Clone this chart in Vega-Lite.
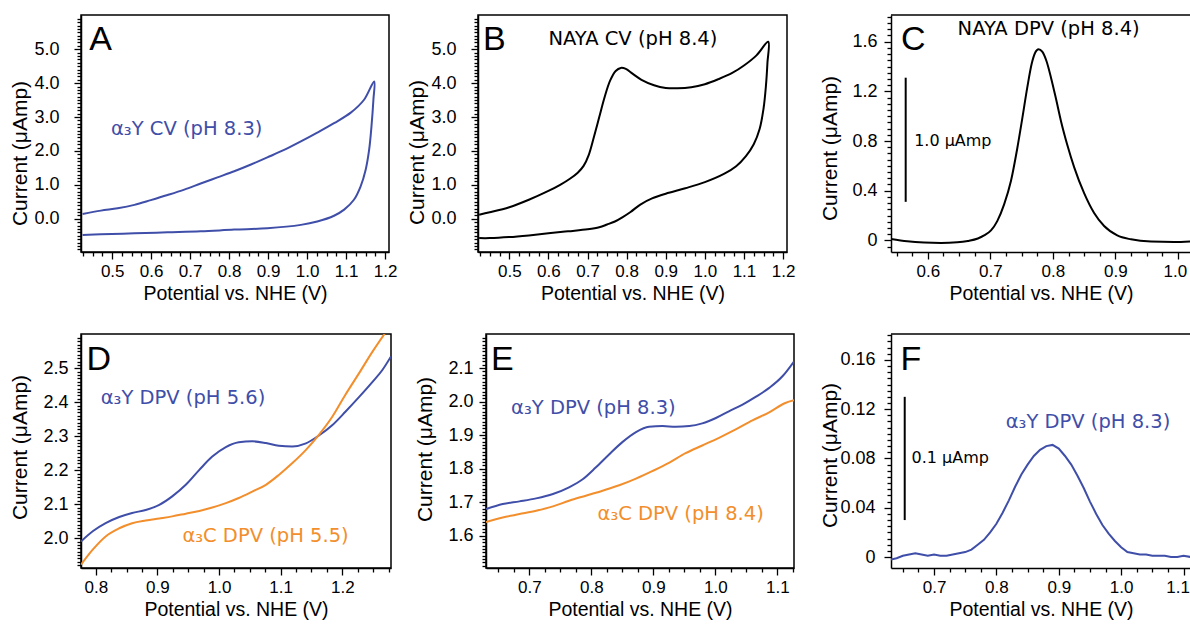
{
"$schema": "https://vega.github.io/schema/vega-lite/v6.json",
"background": "white",
"padding": {"left": 8, "top": 7, "right": 0, "bottom": 0},
"autosize": {"type": "pad"},
"config": {
  "font": "Liberation Sans",
  "view": {"stroke": "black", "strokeWidth": 1.5},
  "axis": {"grid": false, "domainColor": "black", "domainWidth": 1.5, "tickColor": "black", "tickWidth": 1.3,
    "labelColor": "black", "labelFontSize": 17, "labelFont": "Liberation Sans", "labelPadding": 4,
    "labelFlush": false, "labelOverlap": false, "titleColor": "black", "titleFontWeight": "normal",
    "titleFont": "Liberation Sans", "titleFontSize": 19.5, "tickCount": 500},
  "axisX": {"titlePadding": 5, "labelPadding": 4},
  "axisY": {"titleX": -51, "titleFontSize": 21, "labelPadding": 9, "labelFontSize": 18},
  "text": {"font": "DejaVu Sans"}
},
"datasets": {
  "A": [
    {"i":0,"v":0.424,"c":0.14},{"i":1,"v":0.471,"c":0.24},{"i":2,"v":0.514,"c":0.31},{"i":3,"v":0.557,"c":0.41},
    {"i":4,"v":0.599,"c":0.55},{"i":5,"v":0.642,"c":0.70},{"i":6,"v":0.685,"c":0.86},{"i":7,"v":0.727,"c":1.04},
    {"i":8,"v":0.770,"c":1.22},{"i":9,"v":0.813,"c":1.40},{"i":10,"v":0.856,"c":1.60},{"i":11,"v":0.898,"c":1.81},
    {"i":12,"v":0.941,"c":2.03},{"i":13,"v":0.984,"c":2.28},{"i":14,"v":1.026,"c":2.54},{"i":15,"v":1.069,"c":2.82},
    {"i":16,"v":1.112,"c":3.13},{"i":17,"v":1.146,"c":3.51},{"i":18,"v":1.172,"c":4.05},
    {"i":19,"v":1.170,"c":3.51},{"i":20,"v":1.165,"c":2.72},{"i":21,"v":1.159,"c":2.03},{"i":22,"v":1.150,"c":1.44},
    {"i":23,"v":1.137,"c":0.95},{"i":24,"v":1.120,"c":0.56},{"i":25,"v":1.095,"c":0.27},{"i":26,"v":1.069,"c":0.09},
    {"i":27,"v":1.026,"c":-0.08},{"i":28,"v":0.984,"c":-0.18},{"i":29,"v":0.898,"c":-0.28},{"i":30,"v":0.813,"c":-0.32},
    {"i":31,"v":0.727,"c":-0.37},{"i":32,"v":0.642,"c":-0.40},{"i":33,"v":0.557,"c":-0.43},{"i":34,"v":0.471,"c":-0.46},
    {"i":35,"v":0.424,"c":-0.48}
  ],
  "B": [
    {"i":0,"v":0.423,"c":0.12},{"i":1,"v":0.45,"c":0.19},{"i":2,"v":0.5,"c":0.34},{"i":3,"v":0.55,"c":0.56},
    {"i":4,"v":0.6,"c":0.82},{"i":5,"v":0.63,"c":1.0},{"i":6,"v":0.655,"c":1.18},{"i":7,"v":0.675,"c":1.36},
    {"i":8,"v":0.69,"c":1.56},{"i":9,"v":0.703,"c":1.88},{"i":10,"v":0.716,"c":2.40},{"i":11,"v":0.73,"c":3.00},
    {"i":12,"v":0.744,"c":3.60},{"i":13,"v":0.758,"c":4.08},{"i":14,"v":0.772,"c":4.36},{"i":15,"v":0.785,"c":4.45},
    {"i":16,"v":0.798,"c":4.42},{"i":17,"v":0.815,"c":4.28},{"i":18,"v":0.838,"c":4.1},{"i":19,"v":0.87,"c":3.94},
    {"i":20,"v":0.9,"c":3.86},{"i":21,"v":0.93,"c":3.85},{"i":22,"v":0.965,"c":3.88},{"i":23,"v":1.0,"c":3.97},
    {"i":24,"v":1.035,"c":4.12},{"i":25,"v":1.07,"c":4.3},{"i":26,"v":1.1,"c":4.52},{"i":27,"v":1.132,"c":4.82},
    {"i":28,"v":1.162,"c":5.22},
    {"i":29,"v":1.16,"c":4.6},{"i":30,"v":1.156,"c":3.9},{"i":31,"v":1.15,"c":3.25},{"i":32,"v":1.14,"c":2.65},
    {"i":33,"v":1.125,"c":2.2},{"i":34,"v":1.105,"c":1.85},{"i":35,"v":1.08,"c":1.55},{"i":36,"v":1.05,"c":1.33},
    {"i":37,"v":1.0,"c":1.08},{"i":38,"v":0.95,"c":0.9},{"i":39,"v":0.9,"c":0.74},{"i":40,"v":0.865,"c":0.6},
    {"i":41,"v":0.835,"c":0.42},{"i":42,"v":0.81,"c":0.2},{"i":43,"v":0.79,"c":0.05},{"i":44,"v":0.77,"c":-0.08},
    {"i":45,"v":0.75,"c":-0.17},{"i":46,"v":0.73,"c":-0.25},{"i":47,"v":0.7,"c":-0.31},{"i":48,"v":0.65,"c":-0.37},
    {"i":49,"v":0.6,"c":-0.43},{"i":50,"v":0.55,"c":-0.49},{"i":51,"v":0.5,"c":-0.54},{"i":52,"v":0.45,"c":-0.57},
    {"i":53,"v":0.423,"c":-0.57}
  ],
  "C": [
    {"v":0.541,"c":0.011},{"v":0.567,"c":-0.008},{"v":0.594,"c":-0.018},{"v":0.621,"c":-0.021},{"v":0.647,"c":-0.016},
    {"v":0.664,"c":-0.005},{"v":0.680,"c":0.015},{"v":0.690,"c":0.040},{"v":0.701,"c":0.080},{"v":0.711,"c":0.155},
    {"v":0.722,"c":0.290},{"v":0.733,"c":0.480},{"v":0.743,"c":0.740},{"v":0.751,"c":0.980},{"v":0.759,"c":1.230},
    {"v":0.766,"c":1.420},{"v":0.772,"c":1.515},{"v":0.777,"c":1.540},{"v":0.783,"c":1.520},{"v":0.790,"c":1.440},
    {"v":0.797,"c":1.310},{"v":0.805,"c":1.140},{"v":0.813,"c":0.960},{"v":0.823,"c":0.770},{"v":0.834,"c":0.590},
    {"v":0.850,"c":0.380},{"v":0.866,"c":0.220},{"v":0.882,"c":0.115},{"v":0.903,"c":0.040},{"v":0.925,"c":0.008},
    {"v":0.957,"c":-0.010},{"v":0.994,"c":-0.013},{"v":1.021,"c":-0.008}
  ],
  "D": [
    {"s":"Y","v":0.776,"c":1.990},{"s":"Y","v":0.795,"c":2.020},{"s":"Y","v":0.816,"c":2.044},{"s":"Y","v":0.838,"c":2.062},
    {"s":"Y","v":0.859,"c":2.074},{"s":"Y","v":0.881,"c":2.083},{"s":"Y","v":0.903,"c":2.098},{"s":"Y","v":0.924,"c":2.123},
    {"s":"Y","v":0.946,"c":2.157},{"s":"Y","v":0.968,"c":2.201},{"s":"Y","v":0.989,"c":2.240},{"s":"Y","v":1.011,"c":2.268},
    {"s":"Y","v":1.032,"c":2.282},{"s":"Y","v":1.054,"c":2.285},{"s":"Y","v":1.076,"c":2.280},{"s":"Y","v":1.097,"c":2.272},
    {"s":"Y","v":1.119,"c":2.270},{"s":"Y","v":1.141,"c":2.279},{"s":"Y","v":1.162,"c":2.302},{"s":"Y","v":1.184,"c":2.333},
    {"s":"Y","v":1.205,"c":2.372},{"s":"Y","v":1.227,"c":2.415},{"s":"Y","v":1.249,"c":2.460},{"s":"Y","v":1.265,"c":2.495},
    {"s":"Y","v":1.279,"c":2.535},
    {"s":"C","v":0.776,"c":1.922},{"s":"C","v":0.795,"c":1.966},{"s":"C","v":0.816,"c":2.005},{"s":"C","v":0.838,"c":2.029},
    {"s":"C","v":0.859,"c":2.044},{"s":"C","v":0.881,"c":2.052},{"s":"C","v":0.903,"c":2.058},{"s":"C","v":0.924,"c":2.064},
    {"s":"C","v":0.946,"c":2.072},{"s":"C","v":0.968,"c":2.080},{"s":"C","v":0.989,"c":2.090},{"s":"C","v":1.011,"c":2.103},
    {"s":"C","v":1.032,"c":2.118},{"s":"C","v":1.054,"c":2.137},{"s":"C","v":1.076,"c":2.157},{"s":"C","v":1.097,"c":2.186},
    {"s":"C","v":1.119,"c":2.221},{"s":"C","v":1.141,"c":2.260},{"s":"C","v":1.162,"c":2.304},{"s":"C","v":1.184,"c":2.358},
    {"s":"C","v":1.205,"c":2.422},{"s":"C","v":1.227,"c":2.485},{"s":"C","v":1.249,"c":2.549},{"s":"C","v":1.273,"c":2.613}
  ],
  "E": [
    {"s":"Y","v":0.630,"c":1.679},{"s":"Y","v":0.657,"c":1.694},{"s":"Y","v":0.684,"c":1.702},{"s":"Y","v":0.711,"c":1.711},
    {"s":"Y","v":0.738,"c":1.724},{"s":"Y","v":0.764,"c":1.744},{"s":"Y","v":0.786,"c":1.768},{"s":"Y","v":0.807,"c":1.803},
    {"s":"Y","v":0.829,"c":1.843},{"s":"Y","v":0.850,"c":1.879},{"s":"Y","v":0.872,"c":1.909},{"s":"Y","v":0.893,"c":1.925},
    {"s":"Y","v":0.915,"c":1.927},{"s":"Y","v":0.936,"c":1.925},{"s":"Y","v":0.958,"c":1.927},{"s":"Y","v":0.979,"c":1.935},
    {"s":"Y","v":1.001,"c":1.951},{"s":"Y","v":1.022,"c":1.971},{"s":"Y","v":1.044,"c":1.991},{"s":"Y","v":1.065,"c":2.014},
    {"s":"Y","v":1.087,"c":2.041},{"s":"Y","v":1.108,"c":2.075},{"s":"Y","v":1.127,"c":2.120},
    {"s":"C","v":0.630,"c":1.640},{"s":"C","v":0.657,"c":1.654},{"s":"C","v":0.684,"c":1.664},{"s":"C","v":0.711,"c":1.674},
    {"s":"C","v":0.738,"c":1.687},{"s":"C","v":0.764,"c":1.704},{"s":"C","v":0.791,"c":1.719},{"s":"C","v":0.818,"c":1.734},
    {"s":"C","v":0.845,"c":1.750},{"s":"C","v":0.872,"c":1.770},{"s":"C","v":0.899,"c":1.793},{"s":"C","v":0.926,"c":1.818},
    {"s":"C","v":0.952,"c":1.846},{"s":"C","v":0.979,"c":1.869},{"s":"C","v":1.006,"c":1.892},{"s":"C","v":1.033,"c":1.917},
    {"s":"C","v":1.060,"c":1.944},{"s":"C","v":1.087,"c":1.968},{"s":"C","v":1.113,"c":1.996},{"s":"C","v":1.127,"c":2.004}
  ],
  "F": [
    {"v":0.631,"c":-0.002},{"v":0.640,"c":-0.001},{"v":0.650,"c":0.001},{"v":0.660,"c":0.002},{"v":0.670,"c":0.003},
    {"v":0.680,"c":0.002},{"v":0.690,"c":0.001},{"v":0.700,"c":0.002},{"v":0.710,"c":0.001},{"v":0.720,"c":0.001},
    {"v":0.730,"c":0.002},{"v":0.740,"c":0.003},{"v":0.750,"c":0.004},{"v":0.760,"c":0.006},{"v":0.770,"c":0.010},
    {"v":0.780,"c":0.014},{"v":0.790,"c":0.020},{"v":0.800,"c":0.027},{"v":0.810,"c":0.036},{"v":0.820,"c":0.046},
    {"v":0.830,"c":0.057},{"v":0.840,"c":0.067},{"v":0.850,"c":0.075},{"v":0.860,"c":0.082},{"v":0.870,"c":0.087},
    {"v":0.880,"c":0.090},{"v":0.890,"c":0.091},{"v":0.900,"c":0.088},{"v":0.910,"c":0.082},{"v":0.920,"c":0.075},
    {"v":0.930,"c":0.066},{"v":0.940,"c":0.056},{"v":0.950,"c":0.045},{"v":0.960,"c":0.035},{"v":0.970,"c":0.026},
    {"v":0.980,"c":0.019},{"v":0.990,"c":0.013},{"v":1.000,"c":0.008},{"v":1.010,"c":0.004},{"v":1.020,"c":0.003},
    {"v":1.030,"c":0.002},{"v":1.040,"c":0.002},{"v":1.050,"c":0.001},{"v":1.060,"c":0.001},{"v":1.070,"c":0.001},
    {"v":1.080,"c":0.000},{"v":1.090,"c":0.000},{"v":1.100,"c":0.001},{"v":1.112,"c":0.000}
  ]
},
"spacing": 22,
"vconcat": [
 {"hconcat": [
  {"width": 308, "height": 237,
   "layer": [
    {"data": {"name": "A"},
     "mark": {"type": "line", "color": "#3f4ea8", "strokeWidth": 2, "clip": true, "interpolate": "catmull-rom"},
     "encoding": {
      "x": {"field": "v", "type": "quantitative", "scale": {"domain": [0.42, 1.21], "nice": false, "zero": false},
        "axis": {"title": "Potential vs. NHE (V)", "labelOverlap": false, "tickCount": 500,
          "values": [0.425,0.45,0.475,0.5,0.525,0.55,0.575,0.6,0.625,0.65,0.675,0.7,0.725,0.75,0.775,0.8,0.825,0.85,0.875,0.9,0.925,0.95,0.975,1.0,1.025,1.05,1.075,1.1,1.125,1.15,1.175,1.2],
          "labelExpr": "abs(datum.value*10-round(datum.value*10))<0.001 ? format(datum.value,'.1f') : ''",
          "tickSize": {"condition": {"test": "abs(datum.value*10-round(datum.value*10))<0.001", "value": 7}, "value": 4}}},
      "y": {"field": "c", "type": "quantitative", "scale": {"domain": [-0.98, 6.01], "nice": false, "zero": false},
        "axis": {"title": "Current (μAmp)", "labelOverlap": false, "tickCount": 500, "titleY": 138, "labelPadding": 15,
          "values": [-0.9,-0.8,-0.7,-0.6,-0.5,-0.4,-0.3,-0.2,-0.1,0,0.1,0.2,0.3,0.4,0.5,0.6,0.7,0.8,0.9,1,1.1,1.2,1.3,1.4,1.5,1.6,1.7,1.8,1.9,2,2.1,2.2,2.3,2.4,2.5,2.6,2.7,2.8,2.9,3,3.1,3.2,3.3,3.4,3.5,3.6,3.7,3.8,3.9,4,4.1,4.2,4.3,4.4,4.5,4.6,4.7,4.8,4.9,5,5.1,5.2,5.3,5.4,5.5,5.6,5.7,5.8,5.9],
          "labelExpr": "abs(datum.value-round(datum.value))<0.001 ? format(datum.value,'.1f') : ''",
          "tickSize": {"condition": {"test": "abs(datum.value-round(datum.value))<0.001", "value": 7}, "value": 4}}},
      "order": {"field": "i", "type": "quantitative"}
     }},
    {"data": {"values": [{}]}, "mark": {"type": "text", "text": "A", "fontSize": 34, "font": "Liberation Sans", "align": "left", "baseline": "alphabetic", "color": "black"},
     "encoding": {"x": {"datum": 0.441}, "y": {"datum": 4.98}}},
    {"data": {"values": [{}]}, "mark": {"type": "text", "text": "α₃Y CV (pH 8.3)", "fontSize": 19.5, "align": "left", "baseline": "alphabetic", "color": "#3f4ea8"},
     "encoding": {"x": {"datum": 0.497}, "y": {"datum": 2.48}}}
   ]},
  {"width": 89, "height": 237, "data": {"values": []}, "mark": {"type": "point", "opacity": 0}, "view": {"stroke": null}},
  {"width": 309, "height": 237,
   "layer": [
    {"data": {"name": "B"},
     "mark": {"type": "line", "color": "black", "strokeWidth": 2, "clip": true, "interpolate": "catmull-rom"},
     "encoding": {
      "x": {"field": "v", "type": "quantitative", "scale": {"domain": [0.42, 1.21], "nice": false, "zero": false},
        "axis": {"title": "Potential vs. NHE (V)", "labelOverlap": false, "tickCount": 500,
          "values": [0.425,0.45,0.475,0.5,0.525,0.55,0.575,0.6,0.625,0.65,0.675,0.7,0.725,0.75,0.775,0.8,0.825,0.85,0.875,0.9,0.925,0.95,0.975,1.0,1.025,1.05,1.075,1.1,1.125,1.15,1.175,1.2],
          "labelExpr": "abs(datum.value*10-round(datum.value*10))<0.001 ? format(datum.value,'.1f') : ''",
          "tickSize": {"condition": {"test": "abs(datum.value*10-round(datum.value*10))<0.001", "value": 7}, "value": 4}}},
      "y": {"field": "c", "type": "quantitative", "scale": {"domain": [-0.98, 6.01], "nice": false, "zero": false},
        "axis": {"title": "Current (μAmp)", "labelOverlap": false, "tickCount": 500, "titleY": 137, "labelPadding": 15,
          "values": [-0.9,-0.8,-0.7,-0.6,-0.5,-0.4,-0.3,-0.2,-0.1,0,0.1,0.2,0.3,0.4,0.5,0.6,0.7,0.8,0.9,1,1.1,1.2,1.3,1.4,1.5,1.6,1.7,1.8,1.9,2,2.1,2.2,2.3,2.4,2.5,2.6,2.7,2.8,2.9,3,3.1,3.2,3.3,3.4,3.5,3.6,3.7,3.8,3.9,4,4.1,4.2,4.3,4.4,4.5,4.6,4.7,4.8,4.9,5,5.1,5.2,5.3,5.4,5.5,5.6,5.7,5.8,5.9],
          "labelExpr": "abs(datum.value-round(datum.value))<0.001 ? format(datum.value,'.1f') : ''",
          "tickSize": {"condition": {"test": "abs(datum.value-round(datum.value))<0.001", "value": 7}, "value": 4}}},
      "order": {"field": "i", "type": "quantitative"}
     }},
    {"data": {"values": [{}]}, "mark": {"type": "text", "text": "B", "fontSize": 34, "font": "Liberation Sans", "align": "left", "baseline": "alphabetic", "color": "black"},
     "encoding": {"x": {"datum": 0.433}, "y": {"datum": 4.98}}},
    {"data": {"values": [{}]}, "mark": {"type": "text", "text": "NAYA CV (pH 8.4)", "fontSize": 19.5, "align": "left", "baseline": "alphabetic", "color": "black"},
     "encoding": {"x": {"datum": 0.600}, "y": {"datum": 5.13}}}
   ]},
  {"width": 104, "height": 237, "data": {"values": []}, "mark": {"type": "point", "opacity": 0}, "view": {"stroke": null}},
  {"width": 300, "height": 237, "view": {"stroke": null},
   "layer": [
    {"data": {"name": "C"},
     "mark": {"type": "line", "color": "black", "strokeWidth": 2, "clip": true, "interpolate": "monotone"},
     "encoding": {
      "x": {"field": "v", "type": "quantitative", "scale": {"domain": [0.541, 1.021], "nice": false, "zero": false},
        "axis": {"title": "Potential vs. NHE (V)", "labelOverlap": false, "tickCount": 500,
          "values": [0.55,0.575,0.6,0.625,0.65,0.675,0.7,0.725,0.75,0.775,0.8,0.825,0.85,0.875,0.9,0.925,0.95,0.975,1.0],
          "labelExpr": "abs(datum.value*10-round(datum.value*10))<0.001 ? format(datum.value,'.1f') : ''",
          "labelOffset": {"condition": {"test": "datum.value > 0.99", "value": -3}, "value": 0},
          "tickSize": {"condition": {"test": "abs(datum.value*10-round(datum.value*10))<0.001", "value": 7}, "value": 4}}},
      "y": {"field": "c", "type": "quantitative", "scale": {"domain": [-0.094, 1.815], "nice": false, "zero": false},
        "axis": {"title": "Current (μAmp)", "labelOverlap": false, "tickCount": 500, "titleY": 133, "labelPadding": 7,
          "values": [-0.05,0,0.05,0.1,0.15,0.2,0.25,0.3,0.35,0.4,0.45,0.5,0.55,0.6,0.65,0.7,0.75,0.8,0.85,0.9,0.95,1,1.05,1.1,1.15,1.2,1.25,1.3,1.35,1.4,1.45,1.5,1.55,1.6,1.65,1.7,1.75,1.8],
          "labelExpr": "abs(datum.value/0.4-round(datum.value/0.4))<0.001 ? (datum.value==0 ? '0' : format(datum.value,'.1f')) : ''",
          "tickSize": {"condition": {"test": "abs(datum.value/0.4-round(datum.value/0.4))<0.001", "value": 7}, "value": 4}}}
     }},
    {"data": {"values": [{}]}, "mark": {"type": "rule", "color": "black", "strokeWidth": 1.5},
     "encoding": {"x": {"datum": 0.541}, "x2": {"datum": 1.021}, "y": {"datum": 1.815}}},
    {"data": {"values": [{}]}, "mark": {"type": "text", "text": "C", "fontSize": 34, "font": "Liberation Sans", "align": "left", "baseline": "alphabetic", "color": "black"},
     "encoding": {"x": {"datum": 0.557}, "y": {"datum": 1.533}}},
    {"data": {"values": [{}]}, "mark": {"type": "text", "text": "NAYA DPV (pH 8.4)", "fontSize": 19.5, "align": "left", "baseline": "alphabetic", "color": "black"},
     "encoding": {"x": {"datum": 0.6475}, "y": {"datum": 1.654}}},
    {"data": {"values": [{}]}, "mark": {"type": "rule", "color": "black", "strokeWidth": 2},
     "encoding": {"x": {"datum": 0.5645}, "y": {"datum": 0.31}, "y2": {"datum": 1.31}}},
    {"data": {"values": [{}]}, "mark": {"type": "text", "text": "1.0 μAmp", "fontSize": 16, "align": "left", "baseline": "alphabetic", "color": "black"},
     "encoding": {"x": {"datum": 0.578}, "y": {"datum": 0.756}}}
   ]}
 ], "spacing": 0, "bounds": "flush"},
 {"hconcat": [
  {"width": 310, "height": 234,
   "layer": [
    {"data": {"name": "D"},
     "mark": {"type": "line", "strokeWidth": 2, "clip": true, "interpolate": "monotone"},
     "encoding": {
      "x": {"field": "v", "type": "quantitative", "scale": {"domain": [0.776, 1.279], "nice": false, "zero": false},
        "axis": {"title": "Potential vs. NHE (V)", "labelOverlap": false, "tickCount": 500,
          "values": [0.8,0.825,0.85,0.875,0.9,0.925,0.95,0.975,1.0,1.025,1.05,1.075,1.1,1.125,1.15,1.175,1.2,1.225,1.25,1.275],
          "labelExpr": "abs(datum.value*10-round(datum.value*10))<0.001 ? format(datum.value,'.1f') : ''",
          "tickSize": {"condition": {"test": "abs(datum.value*10-round(datum.value*10))<0.001", "value": 7}, "value": 4}}},
      "y": {"field": "c", "type": "quantitative", "scale": {"domain": [1.912, 2.601], "nice": false, "zero": false},
        "axis": {"title": "Current (μAmp)", "labelOverlap": false, "tickCount": 500, "titleY": 113, "labelPadding": 6,
          "values": [1.92,1.93,1.94,1.95,1.96,1.97,1.98,1.99,2,2.01,2.02,2.03,2.04,2.05,2.06,2.07,2.08,2.09,2.1,2.11,2.12,2.13,2.14,2.15,2.16,2.17,2.18,2.19,2.2,2.21,2.22,2.23,2.24,2.25,2.26,2.27,2.28,2.29,2.3,2.31,2.32,2.33,2.34,2.35,2.36,2.37,2.38,2.39,2.4,2.41,2.42,2.43,2.44,2.45,2.46,2.47,2.48,2.49,2.5,2.51,2.52,2.53,2.54,2.55,2.56,2.57,2.58,2.59],
          "labelExpr": "abs(datum.value*10-round(datum.value*10))<0.001 ? format(datum.value,'.1f') : ''",
          "tickSize": {"condition": {"test": "abs(datum.value*10-round(datum.value*10))<0.001", "value": 7}, "value": 4}}},
      "color": {"field": "s", "type": "nominal", "scale": {"domain": ["Y", "C"], "range": ["#3f4ea8", "#f28e2c"]}, "legend": null}
     }},
    {"data": {"values": [{}]}, "mark": {"type": "text", "text": "D", "fontSize": 34, "font": "Liberation Sans", "align": "left", "baseline": "alphabetic", "color": "black"},
     "encoding": {"x": {"datum": 0.785}, "y": {"datum": 2.495}}},
    {"data": {"values": [{}]}, "mark": {"type": "text", "text": "α₃Y DPV (pH 5.6)", "fontSize": 19.5, "align": "left", "baseline": "alphabetic", "color": "#3f4ea8"},
     "encoding": {"x": {"datum": 0.808}, "y": {"datum": 2.395}}},
    {"data": {"values": [{}]}, "mark": {"type": "text", "text": "α₃C DPV (pH 5.5)", "fontSize": 19.5, "align": "left", "baseline": "alphabetic", "color": "#f28e2c"},
     "encoding": {"x": {"datum": 0.9405}, "y": {"datum": 1.99}}}
   ]},
  {"width": 95, "height": 234, "data": {"values": []}, "mark": {"type": "point", "opacity": 0}, "view": {"stroke": null}},
  {"width": 308, "height": 234,
   "layer": [
    {"data": {"name": "E"},
     "mark": {"type": "line", "strokeWidth": 2, "clip": true, "interpolate": "monotone"},
     "encoding": {
      "x": {"field": "v", "type": "quantitative", "scale": {"domain": [0.63, 1.127], "nice": false, "zero": false},
        "axis": {"title": "Potential vs. NHE (V)", "labelOverlap": false, "tickCount": 500,
          "values": [0.65,0.675,0.7,0.725,0.75,0.775,0.8,0.825,0.85,0.875,0.9,0.925,0.95,0.975,1.0,1.025,1.05,1.075,1.1,1.125],
          "labelExpr": "abs(datum.value*10-round(datum.value*10))<0.001 ? format(datum.value,'.1f') : ''",
          "tickSize": {"condition": {"test": "abs(datum.value*10-round(datum.value*10))<0.001", "value": 7}, "value": 4}}},
      "y": {"field": "c", "type": "quantitative", "scale": {"domain": [1.503, 2.202], "nice": false, "zero": false},
        "axis": {"title": "Current (μAmp)", "labelOverlap": false, "tickCount": 500, "titleY": 115, "labelPadding": 6,
          "values": [1.51,1.52,1.53,1.54,1.55,1.56,1.57,1.58,1.59,1.6,1.61,1.62,1.63,1.64,1.65,1.66,1.67,1.68,1.69,1.7,1.71,1.72,1.73,1.74,1.75,1.76,1.77,1.78,1.79,1.8,1.81,1.82,1.83,1.84,1.85,1.86,1.87,1.88,1.89,1.9,1.91,1.92,1.93,1.94,1.95,1.96,1.97,1.98,1.99,2,2.01,2.02,2.03,2.04,2.05,2.06,2.07,2.08,2.09,2.1,2.11,2.12,2.13,2.14,2.15,2.16,2.17,2.18,2.19],
          "labelExpr": "abs(datum.value*10-round(datum.value*10))<0.001 ? format(datum.value,'.1f') : ''",
          "tickSize": {"condition": {"test": "abs(datum.value*10-round(datum.value*10))<0.001", "value": 7}, "value": 4}}},
      "color": {"field": "s", "type": "nominal", "scale": {"domain": ["Y", "C"], "range": ["#3f4ea8", "#f28e2c"]}, "legend": null}
     }},
    {"data": {"values": [{}]}, "mark": {"type": "text", "text": "E", "fontSize": 34, "font": "Liberation Sans", "align": "left", "baseline": "alphabetic", "color": "black"},
     "encoding": {"x": {"datum": 0.638}, "y": {"datum": 2.095}}},
    {"data": {"values": [{}]}, "mark": {"type": "text", "text": "α₃Y DPV (pH 8.3)", "fontSize": 19.5, "align": "left", "baseline": "alphabetic", "color": "#3f4ea8"},
     "encoding": {"x": {"datum": 0.6705}, "y": {"datum": 1.964}}},
    {"data": {"values": [{}]}, "mark": {"type": "text", "text": "α₃C DPV (pH 8.4)", "fontSize": 19.5, "align": "left", "baseline": "alphabetic", "color": "#f28e2c"},
     "encoding": {"x": {"datum": 0.810}, "y": {"datum": 1.645}}}
   ]},
  {"width": 97, "height": 234, "data": {"values": []}, "mark": {"type": "point", "opacity": 0}, "view": {"stroke": null}},
  {"width": 300, "height": 234, "view": {"stroke": null},
   "layer": [
    {"data": {"name": "F"},
     "mark": {"type": "line", "color": "#3f4ea8", "strokeWidth": 2, "clip": true, "interpolate": "linear"},
     "encoding": {
      "x": {"field": "v", "type": "quantitative", "scale": {"domain": [0.631, 1.112], "nice": false, "zero": false},
        "axis": {"title": "Potential vs. NHE (V)", "labelOverlap": false, "tickCount": 500,
          "values": [0.65,0.675,0.7,0.725,0.75,0.775,0.8,0.825,0.85,0.875,0.9,0.925,0.95,0.975,1.0,1.025,1.05,1.075,1.1],
          "labelExpr": "abs(datum.value*10-round(datum.value*10))<0.001 ? format(datum.value,'.1f') : ''",
          "labelOffset": {"condition": {"test": "datum.value > 1.09", "value": -6}, "value": 0},
          "tickSize": {"condition": {"test": "abs(datum.value*10-round(datum.value*10))<0.001", "value": 7}, "value": 4}}},
      "y": {"field": "c", "type": "quantitative", "scale": {"domain": [-0.0089, 0.181], "nice": false, "zero": false},
        "axis": {"title": "Current (μAmp)", "labelOverlap": false, "tickCount": 500, "titleY": 121, "labelPadding": 9,
          "values": [0,0.005,0.01,0.015,0.02,0.025,0.03,0.035,0.04,0.045,0.05,0.055,0.06,0.065,0.07,0.075,0.08,0.085,0.09,0.095,0.1,0.105,0.11,0.115,0.12,0.125,0.13,0.135,0.14,0.145,0.15,0.155,0.16,0.165,0.17,0.175,0.18],
          "labelExpr": "abs(datum.value*25-round(datum.value*25))<0.001 ? (datum.value==0 ? '0' : format(datum.value,'.2f')) : ''",
          "tickSize": {"condition": {"test": "abs(datum.value*25-round(datum.value*25))<0.001", "value": 7}, "value": 4}}}
     }},
    {"data": {"values": [{}]}, "mark": {"type": "rule", "color": "black", "strokeWidth": 1.5},
     "encoding": {"x": {"datum": 0.631}, "x2": {"datum": 1.112}, "y": {"datum": 0.181}}},
    {"data": {"values": [{}]}, "mark": {"type": "text", "text": "F", "fontSize": 34, "font": "Liberation Sans", "align": "left", "baseline": "alphabetic", "color": "black"},
     "encoding": {"x": {"datum": 0.6464}, "y": {"datum": 0.152}}},
    {"data": {"values": [{}]}, "mark": {"type": "text", "text": "α₃Y DPV (pH 8.3)", "fontSize": 19.5, "align": "left", "baseline": "alphabetic", "color": "#3f4ea8"},
     "encoding": {"x": {"datum": 0.815}, "y": {"datum": 0.1049}}},
    {"data": {"values": [{}]}, "mark": {"type": "rule", "color": "black", "strokeWidth": 2},
     "encoding": {"x": {"datum": 0.653}, "y": {"datum": 0.03}, "y2": {"datum": 0.13}}},
    {"data": {"values": [{}]}, "mark": {"type": "text", "text": "0.1 μAmp", "fontSize": 16, "align": "left", "baseline": "alphabetic", "color": "black"},
     "encoding": {"x": {"datum": 0.664}, "y": {"datum": 0.0766}}}
   ]}
 ], "spacing": 0, "bounds": "flush"}
]
}
